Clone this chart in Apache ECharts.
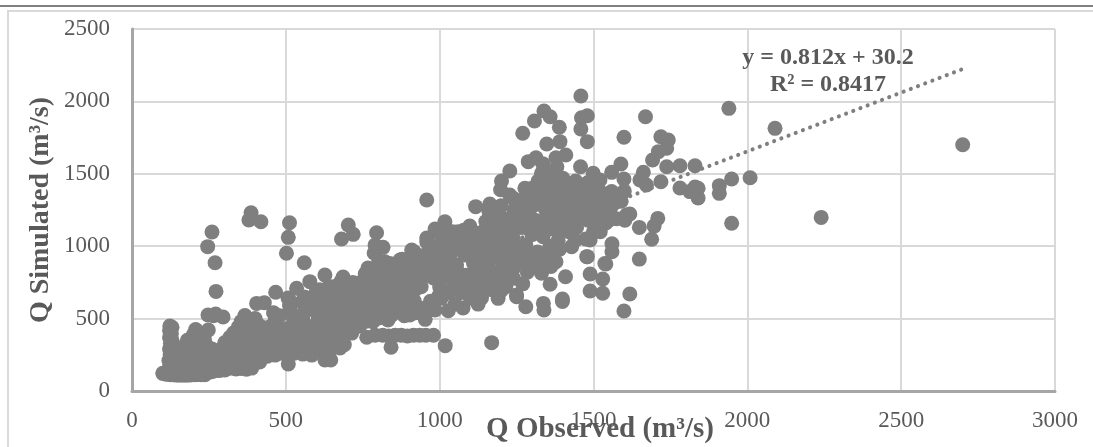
<!DOCTYPE html>
<html><head><meta charset="utf-8">
<style>html,body{margin:0;padding:0;background:#fff}#c{width:1093px;height:447px}</style>
<script src="https://cdn.jsdelivr.net/npm/echarts@6/dist/echarts.min.js"></script>
</head><body><div id="c"></div>
<script>
const xTicks = [0,500,1000,1500,2000,2500,3000];
const yTicks = [0,500,1000,1500,2000,2500];
const xTitle = 'Q Observed (m³/s)';
const yTitle = 'Q Simulated (m³/s)';
const trendX = [100,2700];
const trendY = [111,2223];
const equationLines = ['y = 0.812x + 30.2','R² = 0.8417'];
const lowFlow = [
[100,122],[108,118],[115,116],[125,112],[135,112],[145,110],[155,110],[165,110],[175,110],[185,110],[195,112],[205,112],[215,114],[225,112],[237,112],[248,130],[259,133],[270,140],[285,142],[302,145],[320,158],[338,152],[355,155],[372,150],[389,158],
[123,449],[130,440],[122,420],[128,395],[122,370],[130,350],[125,330],[132,310],[122,290],[128,270],[124,250],[130,230],[120,210],[128,190],[122,170],[130,150],[125,135],
[140,300],[145,270],[150,250],[155,225],[140,205],[150,185],[160,165],[145,140],[165,300],[172,270],[180,350],[185,300],[178,240],[190,210],[170,190],[180,160],[195,135],[165,130],
[207,425],[200,390],[195,340],[210,300],[200,260],[215,225],[205,190],[220,165],[210,140],[225,395],[248,421],[235,360],[240,320],[228,280],[245,250],[232,210],[250,180],[240,150],
[247,525],[265,520],[272,532],[296,511],[260,290],[272,250],[265,215],[285,185],[275,160],[290,290],[300,260],[295,225],[310,195],[305,170],[325,160],[302,335],[318,370],[330,400],[345,440],[367,521],[355,480],[335,320],[325,280],[345,250],[335,215],[355,190],[350,165],[370,175],[372,430],[365,380],[375,330],[360,290],[380,250],[370,215],[390,190],[395,400],[400,350],[390,300],[405,270],[398,230],[415,200],
[405,605],[430,610],[385,470],[400,500],[415,450],[430,400],[420,360],[435,320],[425,280],[440,240],[450,270],[445,330],[455,380],[445,440],[465,490],[467,682],[460,540],[480,520],[470,420],[485,360],[475,300],[490,260],[465,248],[427,237]
];
const midFlow = [
[507,642],[512,590],[508,186],[500,430],[505,380],[515,320],[510,280],[525,260],[535,709],[520,610],[535,440],[530,390],[545,340],[540,290],[555,255],[548,480],[560,650],[565,580],[555,500],[578,755],[570,420],[585,380],[590,300],[584,248],[600,270],[595,450],[605,520],[590,640],[610,700],[627,801],[615,610],[625,560],[630,480],[620,420],[635,360],[625,300],[627,214],[646,214],[640,260],[650,330],[645,400],[655,460],[640,520],[650,590],[660,650],[655,720],[686,787],[670,730],[675,660],[665,560],[680,510],[670,440],[685,390],[675,340],[676,297],[690,320],[695,450],[700,520],[690,600],[705,680],[710,740],[714,400],[720,470],[725,560],[715,640],[730,700],[735,610],[745,530],[740,450],[755,620],[760,690],[750,760],[767,849],[775,780],[770,560],[785,500],[783,479],[790,650],[787,953],[790,1008],[795,1093],[816,992],[822,893],[800,860],[805,750],[810,600],[800,540],[820,700],[825,810],[832,490],[840,640],[845,560],[850,760],[855,860],[842,302],[871,905],[865,700],[870,600],[880,800],[885,520],[890,660],[903,525],[909,974],[900,880],[895,760],[910,620],[920,700],[925,830],[930,910],[940,780],[945,570],[953,495],[958,1057],[960,800],[965,900],[970,620],[975,1000],[985,1118],[985,559],[990,850],[995,950],[1000,720],[1005,640],[1010,1040],[1017,1169],[1015,900],[1020,800],[1028,554],[1030,680],[1035,980],[1045,750],[1050,600],[1060,1100],[1055,870],[1065,1020],[1076,573],[1078,720],[1085,800],[1090,960],[1098,1139],[1100,640],[1105,1060],[1110,880],[1117,1273],[1120,760],[1125,600],[1131,1057],[1136,642],[1140,820],[1145,980],[1157,1181],[1150,700],[1163,1291],[1160,900],[1165,1110],[1175,1200],[1169,334],[1180,780],[1185,1030],[1190,640],[1196,686],[1201,1022],[1201,1450],[1205,860],[1210,1150],[1215,720],[1228,1353],[1228,1519],[1225,960],[1235,1080],[1240,778],[1250,905],[1250,651],[1250,663],[1255,1200],[1261,909],[1265,1130],[1270,1780],[1277,1400],[1280,582],[1280,1010],[1288,1584],[1285,820],[1295,1260],[1308,1865],[1313,1611],[1300,1080],[1310,940],[1320,1330],[1331,813],[1325,1170],[1335,1570],[1331,1503],[1337,605],[1339,559],[1339,1934],[1336,1066],[1340,1440],[1345,1250],[1348,1706],[1348,1380],[1359,737],[1359,1894],[1355,960],[1365,1120],[1365,1480],[1378,893],[1378,1611],[1381,1549],[1375,1300],[1389,1821],[1391,1722],[1385,1040],[1390,1430],[1399,635],[1399,618],[1409,789],[1410,1630],[1413,1436],[1405,1200],[1410,1340],[1429,997],[1420,1100],[1425,1260],[1440,1400],[1450,1319],[1445,1130],[1458,1549],[1459,2037],[1459,1809],[1461,1887],[1480,1901],[1480,1722],[1480,928],[1478,928],[1489,1043],[1489,808],[1489,691],[1470,1210],[1475,1050],[1499,1503],[1499,1411],[1490,1300],[1505,1150],[1521,1457],[1515,1230],[1530,773],[1530,675],[1540,877],[1540,1160],[1537,881],[1535,1340],[1559,1510],[1559,1377],[1560,962],[1560,1017],[1555,1260],[1575,1190],[1589,1568],[1599,1464],[1599,1752],[1599,552],[1590,1310],[1607,1215],[1618,670],[1618,1222],[1649,1130],[1649,911],[1651,1457],[1662,1510],[1669,1894],[1672,1423],[1689,1048],[1692,1595],[1697,1139],[1709,1192],[1711,1653],[1719,1756],[1719,1445],[1738,1676],[1738,1549],[1743,1733],[1781,1556],[1781,1402],[1813,1377],[1830,1556],[1830,1409],[1840,1400],[1840,1333],[1909,1418],[1909,1365],[1940,1952],[1949,1464],[1949,1158],[2009,1473],[2090,1814],[2240,1199],[2700,1701],
[260,1098],[246,997],[270,886],[273,688],[387,1231],[380,1181],[419,1169],[512,1162],[508,1061],[502,951],[560,886],[958,1319],[703,1146],[681,1050],[719,1082],
[763,371],[790,385],[815,385],[835,380],[855,385],[875,385],[895,380],[915,385],[935,385],[955,385],[980,385],[1018,313]
];
const denseBand = [
[620,680],[640,720],[660,600],[700,590],[720,520],[740,680],[760,600],[780,720],[800,680],[820,620],[840,760],[860,720],[880,640],[900,680],[920,780],[940,720],[960,860],[980,780],[1000,880],[1020,960],[1040,880],[1060,820],[1080,1000],[1100,940],[1120,1030],[1140,1100],[1160,1020],[1180,960],[1200,1080],[1220,1180],[1240,1000],[1260,1260],[1280,1200],[1300,1400],[1310,1180],[1330,1300],[1350,1500],[1360,1200],[1370,1400],[1380,1150],[1400,1460],[1410,1280],[1430,1180],[1455,1260],[1475,1380],[1490,1440],[1510,1360],[1525,1290],[1550,1180],[1570,1300],[1600,1380],[1420,1360],[1290,1120],[1130,880],[1150,1170],[1040,1080],[1070,680],[1095,760],[1115,680],[1170,700],[1200,820],[1230,880],[1270,740],[1300,880],[1340,920],[1390,980],[1440,1040],[1500,1100],[1120,840],
[522,300],[518,405],[525,495],[515,560],[562,305],[558,360],[565,455],[560,540],[558,605],[603,325],[598,390],[605,480],[600,560],[602,620],[598,680],[642,305],[638,385],[642,462],[640,560],[645,640],[638,700],[682,350],[678,420],[682,482],[680,580],[678,622],[682,700],[680,760],[722,432],[718,505],[722,600],[720,680],[718,750],[762,482],[758,540],[762,640],[760,740],[758,810],[802,505],[798,580],[802,640],[800,740],[798,820],[802,900],[842,520],[838,600],[842,700],[840,800],[838,880],[882,560],[878,680],[882,760],[880,840],[878,910],[922,540],[918,620],[922,760],[920,860],[918,960],[962,565],[958,880],[962,960],[958,1030],[998,660],[1002,780],[1000,940],[998,1000],[1002,1080],[1038,700],[1042,800],[1040,960],[1038,1040],[1042,1100],[1078,770],[1082,940],[1080,1060],[1078,1110],[1118,720],[1122,800],[1120,930],[1118,1000],[1122,1090],[1158,760],[1162,840],[1160,960],[1158,1060],[1162,1140],[1160,1240],[1202,700],[1198,780],[1202,900],[1200,980],[1198,1120],[1202,1200],[1200,1280],[1198,1390],[1238,840],[1242,950],[1240,1050],[1238,1150],[1242,1250],[1240,1330],[1282,860],[1280,960],[1282,1200],[1278,1280],[1282,1350],[1322,860],[1318,960],[1320,1130],[1318,1290],[1322,1380],[1320,1450],[1362,860],[1358,1000],[1360,1180],[1358,1270],[1362,1340],[1360,1420],[1358,1500],[1400,1230],[1398,1320],[1402,1400],[1400,1470],[1402,1120],[1442,1200],[1440,1300],[1438,1360],[1442,1450],[1482,1180],[1480,1260],[1478,1350],[1482,1440],[1522,1100],[1518,1180],[1520,1380],[1560,1330],[1602,1180]
];
const points = lowFlow.concat(midFlow, denseBand);

const chart = echarts.init(document.getElementById('c'), null, {renderer:'canvas'});
const serif = '"Liberation Serif", serif';
const gridStyle = {show:true, lineStyle:{color:'#d9d9d9', width:2}};
const axisBase = {
  type:'value', splitLine:gridStyle,
  axisLine:{show:true, onZero:false, lineStyle:{color:'#a6a6a6', width:3}},
  axisTick:{show:false}
};
const plain = v => String(v);
chart.setOption({
  animation:false,
  grid:{left:132, right:38, top:29, bottom:56, outerBoundsMode:'none'},
  xAxis:Object.assign({}, axisBase, {
    min:xTicks[0], max:xTicks[xTicks.length-1], interval:500,
    axisLabel:{color:'#595959', fontFamily:serif, fontSize:23, margin:18, formatter:plain, hideOverlap:false, showMaxLabel:true, showMinLabel:true},
    name:xTitle, nameLocation:'middle', nameGap:24, nameMoveOverlap:false,
    nameTextStyle:{color:'#595959', fontFamily:serif, fontSize:29, fontWeight:'bold', padding:[0,0,0,13]}
  }),
  yAxis:Object.assign({}, axisBase, {
    min:yTicks[0], max:yTicks[yTicks.length-1], interval:500,
    axisLabel:{color:'#595959', fontFamily:serif, fontSize:23, margin:22, formatter:plain, showMaxLabel:true, showMinLabel:true},
    name:yTitle, nameLocation:'middle', nameGap:77, nameMoveOverlap:false,
    nameTextStyle:{color:'#595959', fontFamily:serif, fontSize:28, fontWeight:'bold'}
  }),
  series:[
    {type:'scatter', data:points, symbolSize:15, itemStyle:{color:'#7f7f7f', opacity:1}, z:3, silent:true},
    {type:'line', data:trendX.map((x,i)=>[x,trendY[i]]), showSymbol:false, z:2, silent:true,
     lineStyle:{color:'#7f7f7f', width:4, type:[0.1,7.6], cap:'round'}}
  ],
  graphic:[
    {type:'rect', shape:{x:0,y:5,width:1093,height:2}, style:{fill:'#808080'}, silent:true},
    {type:'rect', shape:{x:7,y:10,width:1086,height:2}, style:{fill:'#d9d9d9'}, silent:true},
    {type:'rect', shape:{x:7,y:10,width:2,height:437}, style:{fill:'#d9d9d9'}, silent:true},
    {type:'text', x:828, y:44, z:10, style:{text:equationLines.join('\n'), fill:'#595959', font:'bold 24px '+serif, lineHeight:27, align:'center'}}
  ]
});
</script></body></html>
